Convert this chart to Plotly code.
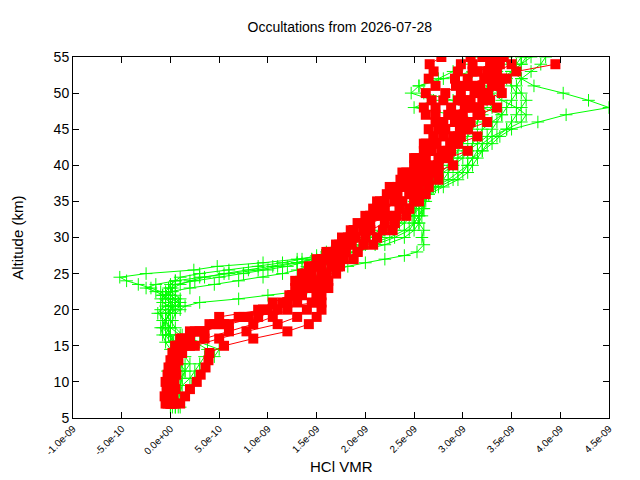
import plotly.graph_objects as go

# altitude grids (km)
red_alt = [7, 8, 9, 10, 11, 12, 13, 14, 15, 16, 17, 18, 19, 20, 21, 22, 23, 24, 25, 26,
           27, 28, 29, 30, 31, 32, 33, 34, 35, 36, 37, 38, 39, 40, 41, 42, 43, 44, 45, 46,
           47, 48, 49, 50, 51, 52, 53, 54, 55]
green_alt = [6.5, 7.5, 8.5, 9.5, 10.5, 11.5, 12.5, 13.5, 14.5, 15.5, 16.5, 17.5, 18.5, 19.5,
             20, 20.5, 21, 21.5, 22, 22.5, 23, 23.5, 24, 24.5, 25, 25.5, 26, 26.5, 27, 27.5, 28,
             29, 30, 31, 32, 33, 34, 35, 36, 37, 38, 39, 40, 41, 42, 43, 44, 45, 46, 47, 48,
             49, 50, 51, 52, 53, 54, 55]

# HCl VMR in units of 1e-9
red1 = [0.02, 0.0, 0.01, 0.02, 0.0, 0.03, 0.05, 0.1, 0.2, 0.35, 0.6, 0.85, 1.05, 1.2, 1.3, 1.35,
        1.4, 1.45, 1.45, 1.5, 1.6, 1.7, 1.8, 1.9, 2.05, 2.05, 2.25, 2.2, 2.35, 2.45, 2.4, 2.55,
        2.5, 2.7, 2.6, 2.8, 2.7, 2.9, 2.8, 3.0, 2.9, 3.1, 3.0, 3.2, 3.1, 3.3, 3.15, 3.35, 3.2]
red2 = [0.0, -0.02, 0.0, 0.01, 0.02, 0.0, 0.02, 0.03, 0.05, 0.1, 0.2, 0.45, 0.8, 1.0, 1.15, 1.25,
        1.3, 1.28, 1.35, 1.42, 1.5, 1.62, 1.7, 1.85, 1.88, 2.02, 2.05, 2.18, 2.15, 2.3, 2.32, 2.45,
        2.42, 2.55, 2.5, 2.65, 2.6, 2.7, 2.65, 2.72, 2.62, 2.6, 2.68, 2.62, 2.72, 2.65, 2.7, 2.66,
        2.78]
red3 = [0.1, 0.15, 0.2, 0.27, 0.31, 0.36, 0.39, 0.4, 0.55, 0.85, 1.2, 1.42, 1.5, 1.55, 1.55, 1.5,
        1.55, 1.62, 1.6, 1.72, 1.78, 1.92, 1.98, 2.12, 2.18, 2.3, 2.32, 2.45, 2.5, 2.62, 2.55,
        2.75, 2.7, 2.9, 2.85, 3.05, 2.95, 3.15, 3.05, 3.25, 3.15, 3.35, 3.2, 3.4, 3.3, 3.45, 3.35,
        3.5, 3.42]
red4 = [0.05, 0.03, 0.02, 0.04, 0.06, 0.05, 0.08, 0.12, 0.25, 0.5, 0.78, 1.1, 1.3, 1.4, 1.45, 1.5,
        1.46, 1.52, 1.55, 1.65, 1.68, 1.8, 1.86, 2.0, 2.05, 2.2, 2.22, 2.35, 2.38, 2.5, 2.52,
        2.62, 2.63, 2.75, 2.76, 2.88, 2.87, 2.98, 2.97, 3.08, 3.0, 3.1, 3.08, 3.2, 3.18, 3.28,
        3.25, 3.38, 3.35]
red5 = [-0.03, -0.02, 0.0, 0.02, 0.01, 0.03, 0.04, 0.06, 0.1, 0.2, 0.35, 0.55, 0.7, 0.95, 1.2, 1.3,
        1.35, 1.38, 1.42, 1.45, 1.58, 1.63, 1.78, 1.82, 1.98, 2.02, 2.15, 2.18, 2.3, 2.33, 2.45,
        2.48, 2.6, 2.62, 2.75, 2.78, 2.9, 2.92, 3.03, 3.05, 3.18, 3.17, 3.28, 3.26, 3.38, 3.4,
        3.55, 3.95, None]
red6 = [0.0, 0.02, 0.05, 0.03, 0.02, 0.05, 0.08, 0.1, 0.15, 0.2, 0.3, 0.4, 0.5, 0.95, 1.5, 1.55,
        1.62, 1.6, 1.7, 1.74, 1.88, 1.92, 2.08, 2.12, 2.28, 2.3, 2.42, 2.45, 2.55, 2.55, 2.65,
        2.65, 2.75, 2.75, 2.85, 2.85, 2.95, 2.95, 3.05, 2.92, 2.95, 2.88, 3.0, 2.98, 3.08, 3.05,
        3.15, 3.1, 3.22]
red7 = [0.01, 0.0, 0.02, 0.0, 0.03, 0.02, 0.04, 0.05, 0.08, 0.15, 0.3, 0.6, 0.9, 1.1, 1.2, 1.25,
        1.34, 1.33, 1.42, 1.48, 1.58, 1.6, 1.73, 1.76, 1.88, 1.92, 2.05, 2.08, 2.2, 2.22, 2.33,
        2.36, 2.48, 2.5, 2.62, 2.6, 2.73, 2.7, 2.82, 2.8, 2.72, 2.72, 2.8, 2.82, 2.93, 2.92, 2.95,
        2.98, 3.08]
red8 = [-0.05, -0.06, -0.04, -0.05, -0.03, -0.02, 0.0, 0.02, 0.05, 0.12, 0.25, 0.5, 0.75, 0.9,
        1.05, 1.22, 1.28, 1.4, 1.4, 1.55, 1.55, 1.7, 1.7, 1.85, 1.85, 2.0, 2.0, 2.12, 2.12, 2.25,
        2.25, 2.4, 2.38, 2.55, 2.52, 2.68, 2.62, 2.8, 2.75, 2.92, 2.85, 3.02, 2.95, 3.12, 3.02,
        3.22, 3.1, 3.28, 3.3]

red_profiles = [red1, red2, red3, red4, red5, red6, red7, red8]

green1 = [0.08, 0.05, 0.06, 0.1, 0.12, 0.15, 0.1, 0.08, 0.05, 0.02, 0.0, -0.05, -0.08, -0.1,
          -0.05, 0.0, 0.02, -0.02, -0.05, -0.1, -0.2, -0.33, -0.45, -0.52, -0.25, 0.24, 0.48, 0.95,
          1.3, 1.55, 1.75,
          2.0, 2.25, 2.4, 2.5, 2.55, 2.58, 2.6, 2.62, 2.75, 2.9, 3.0, 3.05, 3.1, 3.15, 3.2, 3.3,
          3.45, 3.6, 3.65, 3.55, 3.4, 3.3, 3.35, 3.4, 3.5, 3.6, 3.7]
green2 = [0.05, 0.1, 0.18, 0.22, 0.25, 0.3, 0.35, 0.45, 0.5, 0.3, 0.12, 0.05, 0.0, -0.05,
          0.0, 0.02, 0.05, 0.1, 0.05, 0.0, 0.02, 0.1, 0.2, 0.35, 0.55, 0.8, 1.05, 1.3, 1.5, 1.7, 1.9,
          2.2, 2.4, 2.5, 2.55, 2.58, 2.6, 2.62, 2.65, 2.8, 2.95, 3.05, 3.1, 3.15, 3.2, 3.3, 3.38,
          3.5, 3.77, 4.06, 4.5, 4.29, 4.03, 3.73, 3.6, 3.5, 3.55, 3.6]
green3 = [0.0, 0.02, 0.05, 0.08, 0.05, 0.1, 0.12, 0.08, 0.05, 0.0, -0.05, -0.02, 0.02, 0.05,
          0.1, 0.15, 0.3, 0.7, 1.0, 1.3, 1.4, 1.45, 1.5, 1.55, 1.6, 1.7, 1.82, 2.0, 2.2, 2.4, 2.53,
          2.6, 2.58, 2.6, 2.55, 2.5, 2.52, 2.55, 2.6, 2.65, 2.7, 2.78, 2.85, 2.9, 2.95, 3.0, 3.05,
          3.1, 3.15, 3.2, 3.3, 3.25, 3.2, 3.25, 3.3, 3.35, 3.4, 3.45]
green4 = [0.1, 0.05, 0.0, 0.05, 0.1, 0.15, 0.2, 0.15, 0.1, 0.05, 0.0, -0.02, -0.05, -0.13,
          -0.1, -0.05, 0.0, -0.05, -0.08, 0.0, 0.2, 0.45, 0.7, 0.95, 1.15, 1.3, 1.4, 1.5, 1.6, 1.75,
          1.9,
          2.1, 2.3, 2.45, 2.5, 2.55, 2.6, 2.58, 2.55, 2.6, 2.7, 2.8, 2.9, 3.0, 3.05, 3.1, 3.15,
          3.2, 3.3, 3.4, 3.2, 2.9, 2.6, 2.55, 2.8, 3.1, 3.3, 3.4]
green5 = [0.02, 0.0, 0.03, 0.05, 0.0, -0.03, 0.0, 0.05, 0.08, 0.03, -0.02, -0.08, -0.05, 0.0,
          0.05, -0.02, -0.08, -0.1, -0.05, 0.02, 0.0, 0.05, 0.25, 0.5, 0.75, 1.0, 1.2, 1.35, 1.45,
          1.55, 1.65,
          1.85, 2.05, 2.2, 2.35, 2.45, 2.5, 2.55, 2.6, 2.7, 2.8, 2.85, 2.9, 2.95, 3.05, 3.15, 3.25,
          3.3, 3.35, 3.4, 3.45, 3.5, 3.55, 3.5, 3.45, 3.5, 3.6, 3.65]
green6 = [0.05, 0.08, 0.1, 0.12, 0.2, 0.25, 0.3, 0.35, 0.38, 0.25, 0.1, 0.0, -0.05, -0.02,
          0.0, 0.05, 0.1, 0.05, 0.0, -0.05, -0.02, 0.0, 0.05, 0.1, 0.3, 0.6, 0.9, 1.15, 1.35, 1.5,
          1.6,
          1.8, 2.0, 2.15, 2.3, 2.4, 2.45, 2.5, 2.55, 2.6, 2.65, 2.7, 2.75, 2.8, 2.85, 2.9, 2.95,
          3.0, 3.05, 2.9, 2.5, 2.7, 2.47, 2.55, 2.75, 2.9, 3.0, 3.1]
green7 = [0.0, 0.03, 0.0, 0.02, 0.05, 0.08, 0.05, 0.02, 0.0, -0.05, -0.08, -0.1, -0.05, 0.0,
          0.05, 0.1, 0.08, 0.0, -0.08, -0.15, -0.25, -0.15, 0.05, 0.3, 0.6, 0.9, 1.1, 1.3, 1.45,
          1.6, 1.75,
          1.95, 2.15, 2.3, 2.4, 2.48, 2.55, 2.6, 2.65, 2.72, 2.85, 2.95, 3.05, 3.1, 3.2, 3.25, 3.35,
          3.45, 3.5, 3.55, 3.6, 3.65, 3.6, 3.55, 3.6, 3.7, 3.8, 3.85]

green_profiles = [green1, green2, green3, green4, green5, green6, green7]

x_tickvals = [-1.0e-09, -5.0e-10, 0.0, 5.0e-10, 1.0e-09, 1.5e-09, 2.0e-09, 2.5e-09,
              3.0e-09, 3.5e-09, 4.0e-09, 4.5e-09]
x_ticktext = ["-1.0e-09", "-5.0e-10", "0.0e+00", "5.0e-10", "1.0e-09", "1.5e-09", "2.0e-09",
              "2.5e-09", "3.0e-09", "3.5e-09", "4.0e-09", "4.5e-09"]
y_tickvals = [5, 10, 15, 20, 25, 30, 35, 40, 45, 50, 55]

scale = 1e-9

fig = go.Figure()

for prof in green_profiles:
    fig.add_trace(go.Scatter(
        x=[v * scale if v is not None else None for v in prof], y=green_alt,
        mode="lines+markers",
        line=dict(color="#00ff00", width=1),
        marker=dict(symbol="cross-thin", size=9, line=dict(color="#00ff00", width=1)),
        showlegend=False))

for prof in red_profiles:
    fig.add_trace(go.Scatter(
        x=[v * scale if v is not None else None for v in prof], y=red_alt,
        mode="lines+markers",
        line=dict(color="#ff0000", width=1),
        marker=dict(symbol="square", size=10, color="#ff0000"),
        showlegend=False))

# page body has an 8px offset, so the figure is drawn 8px smaller
fig.update_layout(
    width=632, height=472,
    margin=dict(l=65, r=31, t=49, b=62),
    paper_bgcolor="white", plot_bgcolor="white",
    font=dict(family="Liberation Sans, Arial, sans-serif", color="black"),
    title=dict(text="Occultations from 2026-07-28", x=0.525, xanchor="center",
               y=0.96, yanchor="middle", font=dict(size=14)),
    showlegend=False,
    annotations=[
        dict(text="HCl VMR", x=0.5, y=-0.133, xref="paper", yref="paper",
             xanchor="center", yanchor="middle", showarrow=False, font=dict(size=15)),
        dict(text="Altitude (km)", x=-0.104, y=0.5, xref="paper", yref="paper",
             xanchor="center", yanchor="middle", showarrow=False, textangle=-90,
             font=dict(size=15)),
    ],
)

fig.update_xaxes(
    range=[-1.0e-09, 4.5e-09], tickvals=x_tickvals, ticktext=x_ticktext,
    tickangle=-45, tickfont=dict(size=10), automargin=False,
    ticks="inside", ticklen=6, tickcolor="black",
    showline=True, linecolor="black", linewidth=1, mirror="ticks",
    showgrid=False, zeroline=False,
)
fig.update_yaxes(
    range=[5, 55], tickvals=y_tickvals, tickfont=dict(size=14), automargin=False,
    ticks="inside", ticklen=6, tickcolor="black",
    showline=True, linecolor="black", linewidth=1, mirror="ticks",
    showgrid=False, zeroline=False,
)

fig.write_html("out.html")
